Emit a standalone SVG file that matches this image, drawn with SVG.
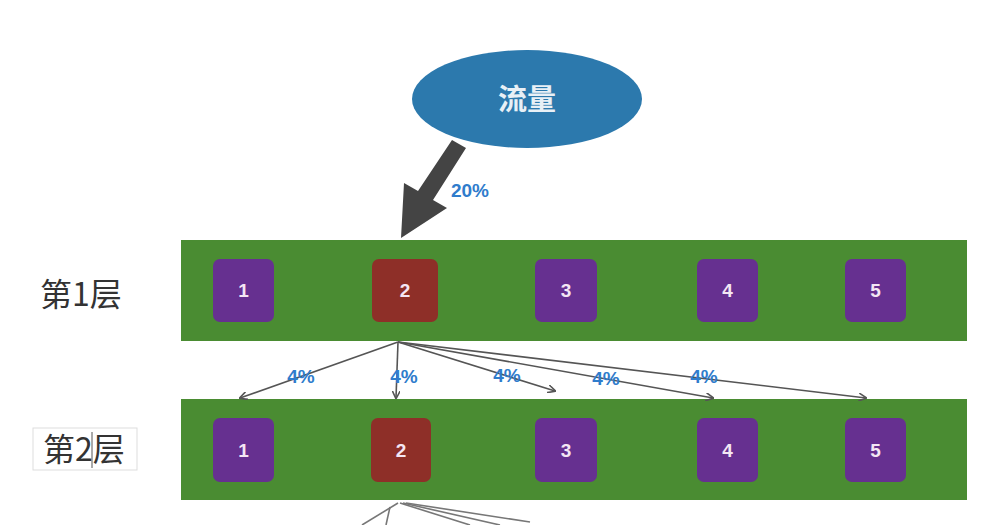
<svg xmlns="http://www.w3.org/2000/svg" width="981" height="525" viewBox="0 0 981 525">
<defs>
<style>
.band{fill:#4a8c32}
.pbox{fill:#663090}
.rbox{fill:#8e2f28}
.num{font-family:"Liberation Sans",Arial,sans-serif;font-weight:bold;font-size:19px;fill:#f4e6f4;text-anchor:middle}
.pct{font-family:"Liberation Sans",Arial,sans-serif;font-weight:bold;font-size:19px;fill:#2f7ccc;text-anchor:middle}
.lay{font-family:"Noto Sans CJK SC","Noto Sans",sans-serif;font-size:32px;fill:#333;text-anchor:middle}
.thin{stroke:#555;stroke-width:1.6;fill:none;marker-end:url(#ah)}
.bot{stroke:#777;stroke-width:1.6;fill:none}
</style>
<marker id="ah" viewBox="0 0 10 10" refX="9" refY="5" markerWidth="8" markerHeight="8" markerUnits="userSpaceOnUse" orient="auto">
<path d="M0,0 L10,5 L0,10" fill="none" stroke="#555" stroke-width="2"/>
</marker>
</defs>
<rect width="981" height="525" fill="#fff"/>

<g id="traffic">
<ellipse cx="527" cy="99" rx="115" ry="49" fill="#2c79ad"/>
<text x="527" y="110" font-family="Noto Sans CJK SC,Noto Sans,sans-serif" font-size="29" font-weight="bold" fill="#e8f0f6" text-anchor="middle">流量</text>
</g>

<g id="layer1">
<rect class="band" x="181" y="240" width="786" height="101"/>
<g id="l1n1"><rect class="pbox" x="213" y="259" width="61" height="63" rx="7"/><text class="num" x="243.5" y="297">1</text></g>
<g id="l1n2"><rect class="rbox" x="372" y="259" width="66" height="63" rx="7"/><text class="num" x="405" y="297">2</text></g>
<g id="l1n3"><rect class="pbox" x="535" y="259" width="62" height="63" rx="7"/><text class="num" x="566" y="297">3</text></g>
<g id="l1n4"><rect class="pbox" x="697" y="259" width="61" height="63" rx="7"/><text class="num" x="727.5" y="297">4</text></g>
<g id="l1n5"><rect class="pbox" x="845" y="259" width="61" height="63" rx="7"/><text class="num" x="875.5" y="297">5</text></g>
</g>

<g id="layer2">
<rect class="band" x="181" y="399" width="786" height="101"/>
<g id="l2n1"><rect class="pbox" x="213" y="418" width="61" height="64" rx="7"/><text class="num" x="243.5" y="457">1</text></g>
<g id="l2n2"><rect class="rbox" x="371" y="418" width="60" height="64" rx="7"/><text class="num" x="401" y="457">2</text></g>
<g id="l2n3"><rect class="pbox" x="535" y="418" width="62" height="64" rx="7"/><text class="num" x="566" y="457">3</text></g>
<g id="l2n4"><rect class="pbox" x="697" y="418" width="61" height="64" rx="7"/><text class="num" x="727.5" y="457">4</text></g>
<g id="l2n5"><rect class="pbox" x="845" y="418" width="61" height="64" rx="7"/><text class="num" x="875.5" y="457">5</text></g>
</g>

<g id="label1"><text class="lay" x="81" y="306">第1层</text></g>
<g id="label2">
<rect x="33" y="428" width="104" height="42" fill="#fff" stroke="#ddd" stroke-width="1"/>
<text class="lay" x="84" y="461">第2层</text>
<line x1="92" y1="432" x2="92" y2="468" stroke="#555" stroke-width="1"/>
</g>

<g id="connectors">
<polygon points="452,140 466,148 433,200 447,208 401,238 404,183 418,191" fill="#444"/>
<text class="pct" x="470" y="197">20%</text>
<line class="thin" x1="398" y1="342" x2="240" y2="398"/>
<line class="thin" x1="398" y1="342" x2="396" y2="398"/>
<line class="thin" x1="398" y1="342" x2="555" y2="391"/>
<line class="thin" x1="398" y1="342" x2="713" y2="398"/>
<line class="thin" x1="398" y1="342" x2="866" y2="398"/>
<text class="pct" x="301" y="383">4%</text>
<text class="pct" x="404" y="383">4%</text>
<text class="pct" x="507" y="382">4%</text>
<text class="pct" x="606" y="385">4%</text>
<text class="pct" x="704" y="383">4%</text>
<line class="bot" x1="398" y1="503" x2="362" y2="525"/>
<line class="bot" x1="390" y1="507" x2="386" y2="525"/>
<line class="bot" x1="400" y1="503" x2="470" y2="525"/>
<line class="bot" x1="403" y1="503" x2="500" y2="525"/>
<line class="bot" x1="406" y1="503" x2="530" y2="522"/>
</g>
</svg>
